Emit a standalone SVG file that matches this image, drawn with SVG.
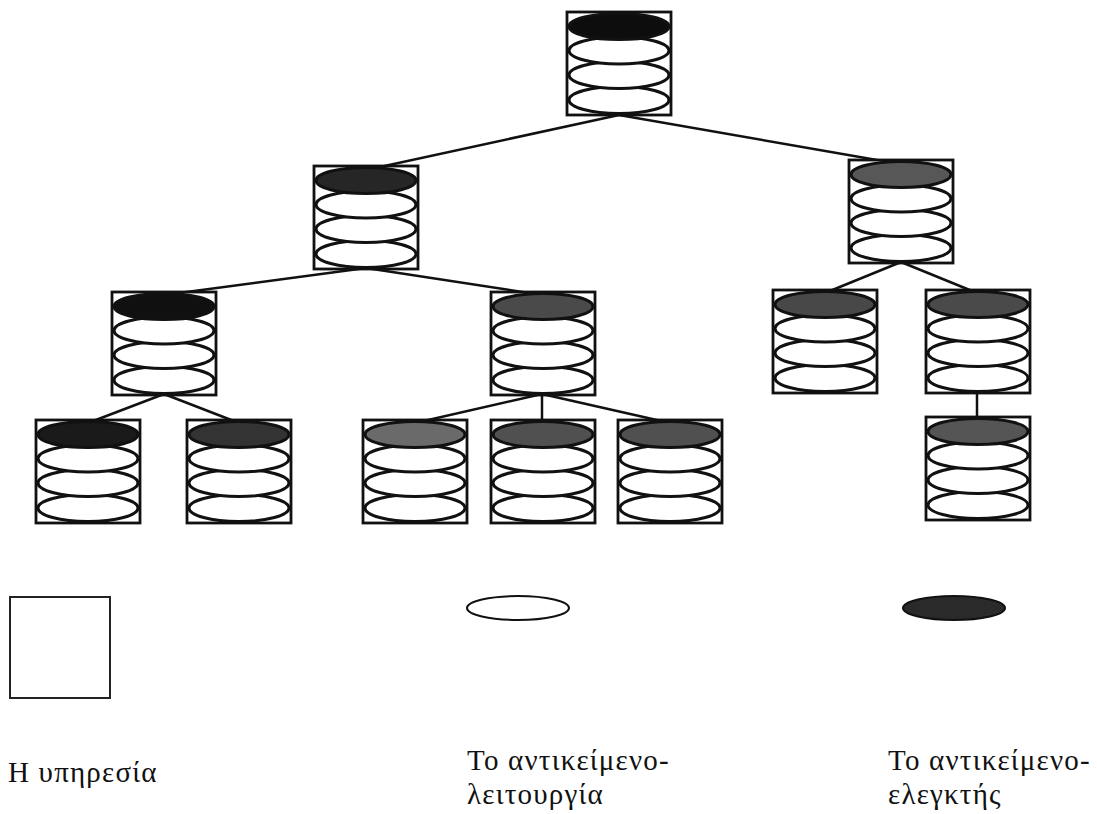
<svg xmlns="http://www.w3.org/2000/svg" width="1097" height="814" viewBox="0 0 1097 814">
<style>
.box{fill:#fff;stroke:#111;stroke-width:2.8}
.e{fill:#fff;stroke:#111;stroke-width:3}
.line{stroke:#111;stroke-width:2.5;fill:none}
.lbl{font-family:"Liberation Serif","DejaVu Serif",serif;font-size:29px;letter-spacing:1.2px;fill:#111}
</style>
<defs>
<g id="stack">
<rect class="box" x="0" y="0" width="104" height="103"/>
<ellipse class="e" cx="52" cy="88" rx="50" ry="13.5"/>
<ellipse class="e" cx="52" cy="63" rx="50" ry="13.5"/>
<ellipse class="e" cx="52" cy="38.5" rx="50" ry="13.5"/>
</g>
</defs>
<g id="connectors">
<line class="line" x1="619" y1="115" x2="366" y2="170"/>
<line class="line" x1="619" y1="115" x2="900" y2="164"/>
<line class="line" x1="366" y1="268" x2="164" y2="295"/>
<line class="line" x1="366" y1="268" x2="542" y2="295"/>
<line class="line" x1="901" y1="262" x2="825" y2="293"/>
<line class="line" x1="901" y1="262" x2="977" y2="293"/>
<line class="line" x1="164" y1="394" x2="88" y2="423"/>
<line class="line" x1="164" y1="394" x2="239" y2="423"/>
<line class="line" x1="542" y1="394" x2="415" y2="423"/>
<line class="line" x1="542" y1="394" x2="542" y2="423"/>
<line class="line" x1="542" y1="394" x2="670" y2="423"/>
<line class="line" x1="977" y1="392" x2="977" y2="419"/>
</g>
<g id="n-root" transform="translate(567,12)"><use href="#stack"/><ellipse class="e" cx="52" cy="14.5" rx="50" ry="13" style="fill:#0d0d0d"/></g>
<g id="n-l1a" transform="translate(314,166)"><use href="#stack"/><ellipse class="e" cx="52" cy="14.5" rx="50" ry="13" style="fill:#262626"/></g>
<g id="n-l1b" transform="translate(849,160)"><use href="#stack"/><ellipse class="e" cx="52" cy="14.5" rx="50" ry="13" style="fill:#575757"/></g>
<g id="n-a" transform="translate(112,292)"><use href="#stack"/><ellipse class="e" cx="52" cy="14.5" rx="50" ry="13" style="fill:#101010"/></g>
<g id="n-b" transform="translate(491,292)"><use href="#stack"/><ellipse class="e" cx="52" cy="14.5" rx="50" ry="13" style="fill:#4a4a4a"/></g>
<g id="n-c" transform="translate(773,290)"><use href="#stack"/><ellipse class="e" cx="52" cy="14.5" rx="50" ry="13" style="fill:#484848"/></g>
<g id="n-d" transform="translate(926,290)"><use href="#stack"/><ellipse class="e" cx="52" cy="14.5" rx="50" ry="13" style="fill:#4a4a4a"/></g>
<g id="n-a1" transform="translate(36,420)"><use href="#stack"/><ellipse class="e" cx="52" cy="14.5" rx="50" ry="13" style="fill:#1a1a1a"/></g>
<g id="n-a2" transform="translate(187,420)"><use href="#stack"/><ellipse class="e" cx="52" cy="14.5" rx="50" ry="13" style="fill:#333"/></g>
<g id="n-b1" transform="translate(363,420)"><use href="#stack"/><ellipse class="e" cx="52" cy="14.5" rx="50" ry="13" style="fill:#6a6a6a"/></g>
<g id="n-b2" transform="translate(491,420)"><use href="#stack"/><ellipse class="e" cx="52" cy="14.5" rx="50" ry="13" style="fill:#505050"/></g>
<g id="n-b3" transform="translate(618,420)"><use href="#stack"/><ellipse class="e" cx="52" cy="14.5" rx="50" ry="13" style="fill:#505050"/></g>
<g id="n-d1" transform="translate(926,417)"><use href="#stack"/><ellipse class="e" cx="52" cy="14.5" rx="50" ry="13" style="fill:#555"/></g>
<g id="legend-service"><rect x="10" y="597" width="100" height="101" fill="#fff" stroke="#222" stroke-width="2"/>
<text class="lbl" x="8" y="782">Η υπηρεσία</text></g>
<g id="legend-function"><ellipse cx="518" cy="608" rx="51" ry="12" fill="#fff" stroke="#111" stroke-width="2"/>
<text class="lbl" x="467" y="770">Το αντικείμενο-</text><text class="lbl" x="467" y="804">λειτουργία</text></g>
<g id="legend-controller"><ellipse cx="954" cy="608" rx="51" ry="12" fill="#2a2a2a" stroke="#111" stroke-width="2"/>
<text class="lbl" x="888" y="770">Το αντικείμενο-</text><text class="lbl" x="888" y="804">ελεγκτής</text></g>
</svg>
